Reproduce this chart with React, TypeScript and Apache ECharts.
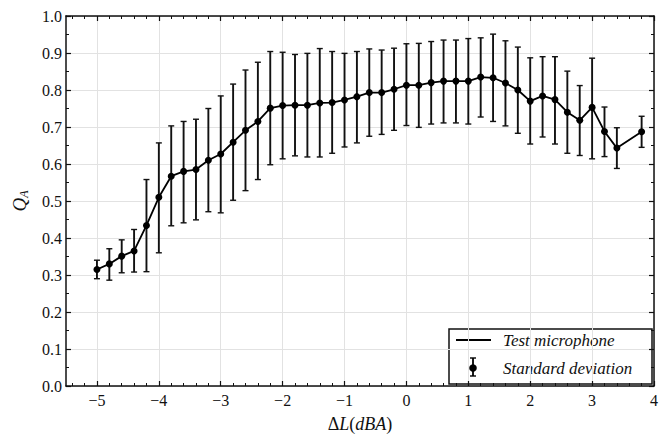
import React, { useEffect, useRef } from "react";
import * as echarts from "echarts";

const deltaL = [-5, -4.8, -4.6, -4.4, -4.2, -4, -3.8, -3.6, -3.4, -3.2, -3, -2.8, -2.6, -2.4, -2.2, -2, -1.8, -1.6, -1.4, -1.2, -1, -0.8, -0.6, -0.4, -0.2, 0, 0.2, 0.4, 0.6, 0.8, 1, 1.2, 1.4, 1.6, 1.8, 2, 2.2, 2.4, 2.6, 2.8, 3, 3.2, 3.4, 3.8];
const qaMean = [0.315, 0.330, 0.351, 0.365, 0.434, 0.510, 0.567, 0.580, 0.585, 0.610, 0.627, 0.659, 0.691, 0.715, 0.751, 0.758, 0.759, 0.759, 0.765, 0.766, 0.773, 0.782, 0.793, 0.793, 0.802, 0.813, 0.813, 0.820, 0.824, 0.824, 0.824, 0.835, 0.833, 0.819, 0.800, 0.770, 0.784, 0.774, 0.740, 0.718, 0.753, 0.688, 0.643, 0.687];
const sdHigh = [0.340, 0.371, 0.395, 0.423, 0.558, 0.657, 0.703, 0.715, 0.721, 0.750, 0.784, 0.816, 0.854, 0.875, 0.904, 0.902, 0.896, 0.899, 0.912, 0.904, 0.899, 0.904, 0.911, 0.908, 0.913, 0.925, 0.926, 0.931, 0.935, 0.935, 0.939, 0.941, 0.951, 0.933, 0.916, 0.887, 0.890, 0.890, 0.851, 0.812, 0.886, 0.754, 0.698, 0.729];
const sdLow = [0.290, 0.286, 0.306, 0.308, 0.309, 0.360, 0.433, 0.441, 0.449, 0.471, 0.468, 0.502, 0.528, 0.558, 0.598, 0.614, 0.622, 0.619, 0.619, 0.629, 0.646, 0.657, 0.675, 0.680, 0.691, 0.704, 0.699, 0.708, 0.711, 0.711, 0.708, 0.727, 0.715, 0.703, 0.683, 0.654, 0.673, 0.654, 0.629, 0.623, 0.614, 0.620, 0.588, 0.645];
const xTicks = [-5, -4, -3, -2, -1, 0, 1, 2, 3, 4];
const legendNames = ["Test microphone", "Standard deviation"];

const FONT = "Liberation Serif, DejaVu Serif, serif";

export default function App() {
  const ref = useRef<HTMLDivElement>(null);
  useEffect(() => {
    if (!ref.current) return;
    const chart = echarts.init(ref.current, undefined, { renderer: "svg" });
    const xMinor: number[] = [];
    for (let i = -27; i <= 19; i++) {
      if (i % 5 !== 0) xMinor.push(Math.round(i * 20) / 100);
    }
    const fmtX = (v: number) => (v < 0 ? "\u2212" + Math.abs(v) : String(v));
    const lineData = deltaL.map((x, i) => [x, qaMean[i]]);
    const errData = deltaL.map((x, i) => [x, sdLow[i], sdHigh[i]]);
    const axisLine = { show: true, onZero: false, lineStyle: { color: "#111", width: 1.5 } };
    const noLine = { show: false, onZero: false };
    const baseX = { type: "value", min: -5.5, max: 4, gridIndex: 0 };
    const L = 449, T = 329;
    chart.setOption({
      animation: false,
      backgroundColor: "#fff",
      textStyle: { fontFamily: FONT },
      grid: { left: 66, top: 16, width: 590, height: 376, containLabel: false },
      xAxis: [
        {
          ...baseX,
          position: "bottom",
          axisLine,
          axisTick: { show: true, inside: true, length: 5, customValues: xTicks, lineStyle: { color: "#111", width: 1.2 } },
          axisLabel: { show: true, customValues: xTicks, formatter: fmtX, color: "#111", fontFamily: FONT, fontSize: 16, margin: 6 },
          splitLine: { show: true, lineStyle: { color: "#e2e2e2", width: 1 } },
          name: "{u|\u0394}{i|L}{u|(}{i|dBA}{u|)}",
          nameLocation: "middle",
          nameGap: 29,
          nameTextStyle: {
            rich: {
              u: { fontFamily: FONT, fontSize: 18, color: "#111" },
              i: { fontFamily: FONT, fontSize: 18, fontStyle: "italic", color: "#111" },
            },
          },
        },
        {
          ...baseX,
          position: "bottom",
          axisLine: noLine,
          axisTick: { show: true, inside: true, length: 3, customValues: xMinor, lineStyle: { color: "#111", width: 1 } },
          axisLabel: { show: false },
          splitLine: { show: false },
        },
        {
          ...baseX,
          position: "top",
          axisLine,
          axisTick: { show: true, inside: true, length: 5, customValues: xTicks, lineStyle: { color: "#111", width: 1.2 } },
          axisLabel: { show: false },
          splitLine: { show: false },
        },
        {
          ...baseX,
          position: "top",
          axisLine: noLine,
          axisTick: { show: true, inside: true, length: 3, customValues: xMinor, lineStyle: { color: "#111", width: 1 } },
          axisLabel: { show: false },
          splitLine: { show: false },
        },
      ],
      yAxis: [
        {
          type: "value",
          min: 0,
          max: 1,
          interval: 0.1,
          position: "left",
          axisLine,
          axisTick: { show: true, inside: true, length: 5, lineStyle: { color: "#111", width: 1.2 } },
          minorTick: { show: true, splitNumber: 2, length: 3, lineStyle: { color: "#111", width: 1 } },
          axisLabel: { color: "#111", fontFamily: FONT, fontSize: 16, margin: 4, formatter: (v: number) => v.toFixed(1) },
          splitLine: { show: true, lineStyle: { color: "#e2e2e2", width: 1 } },
          name: "{i|Q}{s|A}",
          nameLocation: "middle",
          nameGap: 36,
          nameRotate: 90,
          nameTextStyle: {
            rich: {
              i: { fontFamily: FONT, fontSize: 19, fontStyle: "italic", color: "#111" },
              s: { fontFamily: FONT, fontSize: 12, fontStyle: "italic", color: "#111", verticalAlign: "bottom", padding: [10, 0, 0, 0] },
            },
          },
        },
        {
          type: "value",
          min: 0,
          max: 1,
          interval: 0.1,
          position: "right",
          axisLine,
          axisTick: { show: true, inside: true, length: 5, lineStyle: { color: "#111", width: 1.2 } },
          minorTick: { show: true, splitNumber: 2, length: 3, lineStyle: { color: "#111", width: 1 } },
          axisLabel: { show: false },
          splitLine: { show: false },
        },
      ],
      series: [
        {
          name: legendNames[1],
          type: "custom",
          xAxisIndex: 0,
          yAxisIndex: 0,
          data: errData,
          encode: { x: 0, y: [1, 2] },
          z: 2,
          renderItem: (params: any, api: any) => {
            const x = api.value(0);
            const lo = api.coord([x, api.value(1)]);
            const hi = api.coord([x, api.value(2)]);
            const cw = 3;
            return {
              type: "group",
              children: [
                { type: "line", shape: { x1: lo[0], y1: lo[1], x2: hi[0], y2: hi[1] }, style: { stroke: "#111", lineWidth: 1.9 } },
                { type: "line", shape: { x1: hi[0] - cw, y1: hi[1], x2: hi[0] + cw, y2: hi[1] }, style: { stroke: "#111", lineWidth: 1.4 } },
                { type: "line", shape: { x1: lo[0] - cw, y1: lo[1], x2: lo[0] + cw, y2: lo[1] }, style: { stroke: "#111", lineWidth: 1.4 } },
              ],
            };
          },
        },
        {
          name: legendNames[0],
          type: "line",
          xAxisIndex: 0,
          yAxisIndex: 0,
          data: lineData,
          z: 3,
          symbol: "circle",
          symbolSize: 7,
          showSymbol: true,
          itemStyle: { color: "#000" },
          lineStyle: { color: "#000", width: 1.8 },
        },
      ],
      graphic: [
        {
          type: "group",
          z: 100,
          children: [
            { type: "rect", shape: { x: L, y: T, width: 203, height: 55 }, style: { fill: "#fff", stroke: "#111", lineWidth: 1.5 } },
            { type: "line", shape: { x1: L + 7, y1: T + 11, x2: L + 42, y2: T + 11 }, style: { stroke: "#000", lineWidth: 1.8 } },
            { type: "text", x: L + 54, y: T + 11, style: { text: legendNames[0], fontFamily: FONT, fontStyle: "italic", fontSize: 17, fill: "#111", verticalAlign: "middle", align: "left" } },
            { type: "line", shape: { x1: L + 24, y1: T + 29, x2: L + 24, y2: T + 47 }, style: { stroke: "#000", lineWidth: 1.8 } },
            { type: "line", shape: { x1: L + 21, y1: T + 29, x2: L + 27, y2: T + 29 }, style: { stroke: "#000", lineWidth: 1.4 } },
            { type: "line", shape: { x1: L + 21, y1: T + 47, x2: L + 27, y2: T + 47 }, style: { stroke: "#000", lineWidth: 1.4 } },
            { type: "circle", shape: { cx: L + 24, cy: T + 39, r: 3.8 }, style: { fill: "#000" } },
            { type: "text", x: L + 54, y: T + 39, style: { text: legendNames[1], fontFamily: FONT, fontStyle: "italic", fontSize: 17, fill: "#111", verticalAlign: "middle", align: "left" } },
          ],
        },
      ],
    });
    return () => chart.dispose();
  }, []);
  return <div ref={ref} style={{ position: "fixed", left: 0, top: 0, width: 661, height: 438 }} />;
}
